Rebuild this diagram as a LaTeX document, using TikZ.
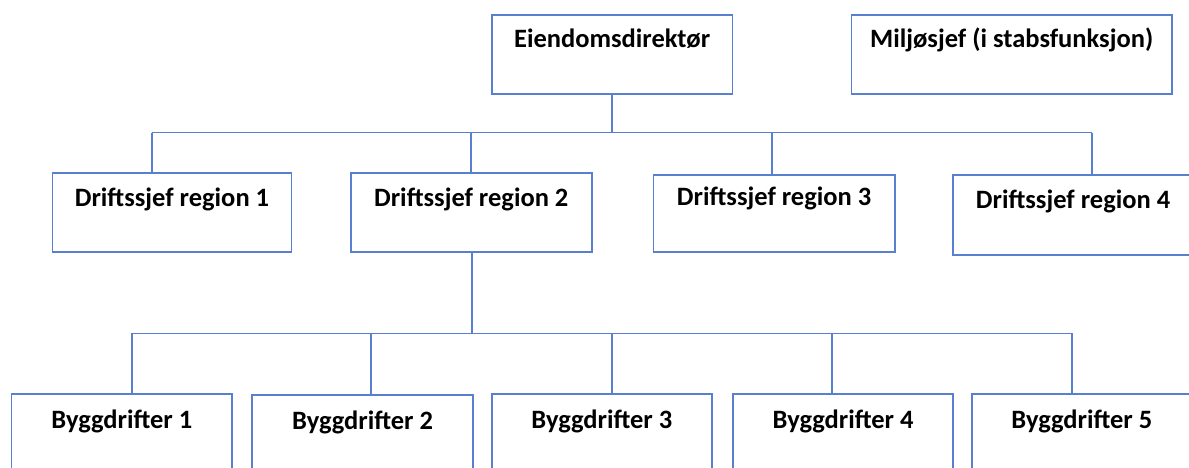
\documentclass[tikz,border=0pt]{standalone}
\usepackage{fontspec}
\setmainfont{Carlito}
\definecolor{lineblue}{RGB}{88,128,206}
\begin{document}
\begin{tikzpicture}[x=1pt,y=-1pt,
  box/.style={draw=lineblue, line width=1.6pt, inner xsep=0pt, inner ysep=0pt,
    text height=33pt, text depth=46pt, anchor=north west, minimum width=#1,
    font=\fontsize{26.5}{30}\selectfont\bfseries},
  lowbox/.style={box=#1, text height=35pt, text depth=60pt},
  conn/.style={draw=lineblue, line width=1.6pt}]
\useasboundingbox (0,0) rectangle (1189,468);
\fill[white] (0,0) rectangle (1189,468);
% top level
\node[box=240.7pt] (dir) at (491,14) {Eiendomsdirektør};
\node[box=320.3pt] (mil) at (850.7,14) {Miljøsjef (i stabsfunksjon)};
% regions
\node[box=239pt] (r1) at (51.7,172.3) {Driftssjef region 1};
\node[box=241pt] (r2) at (350,172.3) {Driftssjef region 2};
\node[box=241.3pt, text height=31pt] (r3) at (652.7,174) {Driftssjef region 3};
\node[box=240pt, text height=34pt] (r4) at (952.3,174) {Driftssjef region 4};
% byggdrifter
\node[lowbox=220.6pt] (b1) at (10.7,393) {Byggdrifter 1};
\node[lowbox=221pt] (b2) at (251.3,394) {Byggdrifter 2};
\node[lowbox=220pt] (b3) at (491,393) {Byggdrifter 3};
\node[lowbox=220pt] (b4) at (732.3,393) {Byggdrifter 4};
\node[lowbox=220pt] (b5) at (971,393) {Byggdrifter 5};
% junction coordinates, upper bar
\coordinate (t0) at (611.7,132.7);
\coordinate (t1) at (151.7,132.7);
\coordinate (t2) at (471,132.7);
\coordinate (t3) at (771.7,132.7);
\coordinate (t4) at (1091.7,132.7);
\draw[conn] (dir.south -| t0) -- (t0);
\draw[conn] (t1) -- (t4);
\draw[conn] (t1) -- (t1 |- r1.north);
\draw[conn] (t2) -- (t2 |- r2.north);
\draw[conn] (t3) -- (t3 |- r3.north);
\draw[conn] (t4) -- (t4 |- r4.north);
% junction coordinates, lower bar
\coordinate (u0) at (472,333.3);
\coordinate (u1) at (131.7,333.3);
\coordinate (u2) at (370.7,333.3);
\coordinate (u3) at (611.7,333.3);
\coordinate (u4) at (831.7,333.3);
\coordinate (u5) at (1071.7,333.3);
\draw[conn] (r2.south -| u0) -- (u0);
\draw[conn] (u1) -- (u5);
\draw[conn] (u1) -- (u1 |- b1.north);
\draw[conn] (u2) -- (u2 |- b2.north);
\draw[conn] (u3) -- (u3 |- b3.north);
\draw[conn] (u4) -- (u4 |- b4.north);
\draw[conn] (u5) -- (u5 |- b5.north);
\end{tikzpicture}
\end{document}
